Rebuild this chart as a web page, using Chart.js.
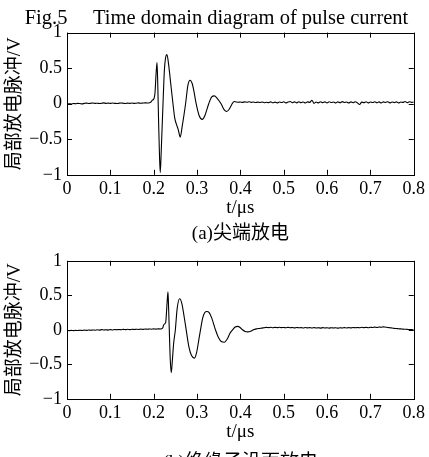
<!DOCTYPE html>
<html>
<head>
<meta charset="utf-8">
<script src="https://cdn.jsdelivr.net/npm/chart.js@4.4.0/dist/chart.umd.min.js"></script>
<style>
html, body { margin: 0; padding: 0; background: #fff; overflow: hidden; }
canvas { position: absolute; left: 0; }
#chartA { top: 0; }
#chartB { top: 245px; }
</style>
</head>
<body>
<canvas id="chartA" width="429" height="245"></canvas>
<canvas id="chartB" width="429" height="235"></canvas>
<script>
// tick labels
var xTicks = [0, 0.1, 0.2, 0.3, 0.4, 0.5, 0.6, 0.7, 0.8];
var yTicks = [-1, -0.5, 0, 0.5, 1];

// (a) tip discharge : time (µs) / voltage (V)
var timeA = [
    0, 0.005, 0.01, 0.015, 0.02, 0.025, 0.03, 0.035, 0.04, 0.045,
    0.05, 0.055, 0.06, 0.065, 0.07, 0.075, 0.08, 0.085, 0.09, 0.095,
    0.1, 0.105, 0.11, 0.115, 0.12, 0.125, 0.13, 0.135, 0.14, 0.145,
    0.15, 0.155, 0.16, 0.165, 0.17, 0.175, 0.18, 0.185,
    0.188, 0.193, 0.197, 0.2005, 0.203, 0.2055, 0.2077, 0.2095, 0.2115, 0.2135,
    0.2152, 0.2175, 0.2215, 0.2245, 0.2275, 0.2306, 0.2345, 0.239, 0.2445, 0.2485,
    0.2525, 0.2565, 0.2612, 0.2655, 0.2736, 0.279, 0.284, 0.289, 0.293, 0.298,
    0.305, 0.312, 0.318, 0.327, 0.334, 0.34, 0.346, 0.3555, 0.362, 0.3686,
    0.375, 0.381, 0.386, 0.39,
    0.395, 0.4, 0.405, 0.41, 0.415, 0.42, 0.425, 0.43, 0.435, 0.44,
    0.445, 0.45, 0.455, 0.46, 0.465, 0.47, 0.475, 0.48, 0.485, 0.49,
    0.495, 0.5, 0.505, 0.51, 0.515, 0.52, 0.525, 0.53, 0.535, 0.54,
    0.545, 0.55, 0.555, 0.56, 0.565, 0.57, 0.575, 0.58, 0.585, 0.59,
    0.595, 0.6, 0.605, 0.61, 0.615, 0.62, 0.625, 0.63, 0.635, 0.64,
    0.645, 0.65, 0.655, 0.66, 0.665, 0.67, 0.675, 0.68, 0.685, 0.69,
    0.695, 0.7, 0.705, 0.71, 0.715, 0.72, 0.725, 0.73, 0.735, 0.74,
    0.745, 0.75, 0.755, 0.76, 0.765, 0.77, 0.775, 0.78, 0.785, 0.79,
    0.795, 0.8
];
var voltA = [
    -0.005, 0.000, -0.004, 0.003, 0.000, 0.005, 0.002, -0.002, 0.004, 0.008,
    0.003, 0.006, 0.010, 0.004, 0.007, 0.002, 0.006, 0.011, 0.005, 0.008,
    0.004, 0.009, 0.005, 0.002, 0.007, 0.010, 0.006, 0.003, 0.008, 0.005,
    0.009, 0.004, 0.007, 0.011, 0.006, 0.009, 0.012, 0.010,
    0.01, 0.02, 0.05, 0.07, 0.15, 0.42, 0.58, 0.25, -0.30, -0.75,
    -0.97, -0.65, 0.00, 0.45, 0.65, 0.69, 0.55, 0.30, 0.00, -0.20,
    -0.29, -0.36, -0.47, -0.33, 0.00, 0.26, 0.33, 0.28, 0.17, 0.00,
    -0.17, -0.22, -0.17, 0.00, 0.095, 0.11, 0.08, 0.00, -0.08, -0.11,
    -0.07, 0.00, 0.03, 0.025,
    0.020, 0.024, 0.018, 0.026, 0.021, 0.027, 0.019, 0.023, 0.016, 0.022,
    0.017, 0.024, 0.014, 0.021, 0.015, 0.025, 0.013, 0.022, 0.012, 0.024,
    0.016, 0.027, 0.011, 0.023, 0.030, 0.014, 0.026, 0.012, 0.028, 0.015,
    0.024, 0.010, 0.026, 0.018, 0.048, 0.005, 0.024, 0.012, 0.027, 0.015,
    0.025, 0.011, 0.028, 0.016, 0.024, 0.010, 0.026, 0.013, 0.029, 0.017,
    0.023, 0.009, 0.025, 0.014, 0.027, 0.012, -0.012, 0.022, 0.015, 0.028,
    0.011, 0.024, 0.016, 0.027, 0.013, 0.025, 0.010, 0.026, 0.017, 0.028,
    0.012, 0.024, 0.015, 0.026, 0.011, 0.023, 0.018, 0.030, 0.014, 0.027,
    0.019, 0.022
];

// (b) insulator surface discharge
var timeB = [
    0, 0.005, 0.01, 0.015, 0.02, 0.025, 0.03, 0.035, 0.04, 0.045,
    0.05, 0.055, 0.06, 0.065, 0.07, 0.075, 0.08, 0.085, 0.09, 0.095,
    0.1, 0.105, 0.11, 0.115, 0.12, 0.125, 0.13, 0.135, 0.14, 0.145,
    0.15, 0.155, 0.16, 0.165, 0.17, 0.175, 0.18, 0.185, 0.19, 0.195,
    0.2, 0.205, 0.21, 0.215,
    0.218, 0.221, 0.223, 0.226, 0.228, 0.2305, 0.233, 0.2345, 0.236, 0.238,
    0.2406, 0.243, 0.246, 0.25, 0.254, 0.2598, 0.265, 0.27, 0.275, 0.281,
    0.287, 0.294, 0.299, 0.304, 0.308, 0.313, 0.318, 0.3226, 0.328, 0.334,
    0.3425, 0.35, 0.356, 0.3632, 0.37, 0.376, 0.382, 0.388, 0.394, 0.4,
    0.405, 0.411, 0.417, 0.424, 0.43, 0.437, 0.444, 0.452, 0.46,
    0.465, 0.47, 0.475, 0.48, 0.485, 0.49, 0.495, 0.5, 0.505, 0.51,
    0.515, 0.52, 0.525, 0.53, 0.535, 0.54, 0.545, 0.55, 0.555, 0.56,
    0.565, 0.57, 0.575, 0.58, 0.585, 0.59, 0.595, 0.6, 0.605, 0.61,
    0.615, 0.62, 0.625, 0.63, 0.635, 0.64, 0.645, 0.65, 0.655, 0.66,
    0.665, 0.67, 0.675, 0.68, 0.685, 0.69, 0.695, 0.7, 0.705, 0.71,
    0.715, 0.72, 0.725, 0.73, 0.735, 0.74, 0.745, 0.75, 0.755, 0.76,
    0.765, 0.77, 0.775, 0.78, 0.785, 0.79, 0.795, 0.8
];
var voltB = [
    -0.010, -0.013, -0.008, -0.012, -0.009, -0.011, -0.006, -0.010, -0.005, -0.008,
    -0.003, -0.007, -0.002, -0.006, 0.000, -0.004, 0.002, -0.003, 0.001, -0.004,
    0.003, -0.002, 0.004, 0.000, 0.005, 0.001, 0.006, 0.002, 0.007, 0.003,
    0.008, 0.004, 0.009, 0.005, 0.010, 0.006, 0.011, 0.008, 0.012, 0.009,
    0.013, 0.010, 0.014, 0.012,
    0.015, 0.03, 0.07, 0.09, 0.12, 0.35, 0.55, 0.30, 0.00, -0.40,
    -0.62, -0.45, -0.20, 0.00, 0.30, 0.45, 0.38, 0.20, 0.00, -0.24,
    -0.37, -0.41, -0.33, -0.15, 0.00, 0.17, 0.25, 0.265, 0.25, 0.17,
    0.00, -0.12, -0.17, -0.18, -0.13, -0.05, 0.00, 0.04, 0.05, 0.03,
    0.00, -0.025, -0.03, -0.02, 0.00, 0.013, 0.02, 0.028, 0.035,
    0.032, 0.036, 0.030, 0.035, 0.031, 0.037, 0.032, 0.034, 0.029, 0.035,
    0.030, 0.033, 0.028, 0.034, 0.029, 0.032, 0.027, 0.033, 0.028, 0.031,
    0.026, 0.032, 0.027, 0.030, 0.025, 0.031, 0.026, 0.029, 0.025, 0.030,
    0.026, 0.029, 0.024, 0.030, 0.026, 0.031, 0.027, 0.032, 0.028, 0.033,
    0.029, 0.034, 0.030, 0.036, 0.031, 0.035, 0.030, 0.037, 0.033, 0.039,
    0.034, 0.041, 0.036, 0.043, 0.038, 0.034, 0.029, 0.026, 0.021, 0.019,
    0.015, 0.013, 0.010, 0.008, 0.006, 0.004, 0.003, 0.001
];

var serif = "'Liberation Serif', 'Noto Sans CJK SC', serif";
Chart.defaults.color = '#000';
Chart.defaults.font.family = serif;

/**
 * Cadre + graduations vers l'intérieur (comme matlab)
 */
var boxPlugin = {
    id: 'boxPlugin',
    afterDraw: function(chart) {
        let ctx = chart.ctx;
        let area = chart.chartArea;
        let sx = chart.scales.x;
        let sy = chart.scales.y;
        let len = 5;
        ctx.save();
        ctx.strokeStyle = '#000';
        ctx.lineWidth = 1;
        ctx.beginPath();
        xTicks.forEach(function(v) {
            let px = Math.round(sx.getPixelForValue(v)) + 0.5;
            ctx.moveTo(px, area.bottom); ctx.lineTo(px, area.bottom - len);
            ctx.moveTo(px, area.top); ctx.lineTo(px, area.top + len);
        });
        yTicks.forEach(function(v) {
            let py = Math.round(sy.getPixelForValue(v)) + 0.5;
            ctx.moveTo(area.left, py); ctx.lineTo(area.left + len, py);
            ctx.moveTo(area.right, py); ctx.lineTo(area.right - len, py);
        });
        ctx.stroke();
        ctx.strokeRect(Math.round(area.left) + 0.5, Math.round(area.top) + 0.5,
            Math.round(area.right - area.left), Math.round(area.bottom - area.top));
        ctx.restore();
    }
};

function formatTick(v) {
    let s = String(Math.round(v * 10) / 10);
    return s.replace('-', '\u2212');
}

/**
 * Construit un graphique de la forme d'onde
 * @param id l'id du canvas
 * @param times les temps
 * @param volts les tensions
 * @param caption la légende sous le graphique
 * @param showTitle afficher le titre de la figure
 * @param padTop marge du haut
 * @param capPad marge de la légende
 */
function buildWave(id, times, volts, caption, showTitle, padTop, capPad) {
    let points = times.map(function(t, i) { return {x: t, y: volts[i]}; });
    let ctx = document.getElementById(id).getContext('2d');
    return new Chart(ctx, {
        type: 'line',
        data: {
            datasets: [{
                data: points,
                borderColor: '#000',
                borderWidth: 1.1,
                pointRadius: 0,
                fill: false,
                cubicInterpolationMode: 'monotone'
            }]
        },
        options: {
            responsive: false,
            animation: false,
            layout: { padding: { left: 4, right: 0, top: padTop, bottom: 0 } },
            plugins: {
                legend: { display: false },
                tooltip: { enabled: false },
                title: {
                    display: showTitle,
                    text: 'Fig.5\u2003 Time domain diagram of pulse current',
                    font: { family: serif, size: 20.5, weight: 'normal' },
                    padding: { top: 6, bottom: 2 }
                },
                subtitle: {
                    display: true,
                    position: 'bottom',
                    fullSize: false,
                    text: caption,
                    font: { family: serif, size: 19, weight: 'normal' },
                    padding: capPad
                }
            },
            scales: {
                x: {
                    type: 'linear',
                    min: 0,
                    max: 0.8,
                    afterBuildTicks: function(scale) {
                        scale.ticks = xTicks.map(function(v) { return {value: v}; });
                    },
                    grid: { display: false, drawTicks: false },
                    border: { display: false },
                    ticks: {
                        padding: 4,
                        maxRotation: 0,
                        font: { size: 18 },
                        callback: formatTick
                    },
                    title: {
                        display: true,
                        text: 't/\u03bcs',
                        font: { size: 19 },
                        padding: { top: -8, bottom: 0 }
                    }
                },
                y: {
                    min: -1,
                    max: 1,
                    afterBuildTicks: function(scale) {
                        scale.ticks = yTicks.map(function(v) { return {value: v}; });
                    },
                    afterFit: function(scale) { scale.width = 63; },
                    grid: { display: false, drawTicks: false },
                    border: { display: false },
                    ticks: {
                        padding: 5,
                        font: { size: 18 },
                        callback: formatTick
                    },
                    title: {
                        display: true,
                        text: '局部放电脉冲/V',
                        font: { size: 19 },
                        padding: { top: 0, bottom: 0 }
                    }
                },
                y2: {
                    position: 'right',
                    min: -1,
                    max: 1,
                    afterFit: function(scale) { scale.width = 14; },
                    grid: { display: false, drawTicks: false },
                    border: { display: false },
                    ticks: { display: false }
                }
            }
        },
        plugins: [boxPlugin]
    });
}

buildWave('chartA', timeA, voltA, '(a)尖端放电', true, 0, { top: 3, bottom: 0 });
buildWave('chartB', timeB, voltB, '(b)绝缘子沿面放电', false, 12, { top: 8, bottom: 6 });
</script>
</body>
</html>
